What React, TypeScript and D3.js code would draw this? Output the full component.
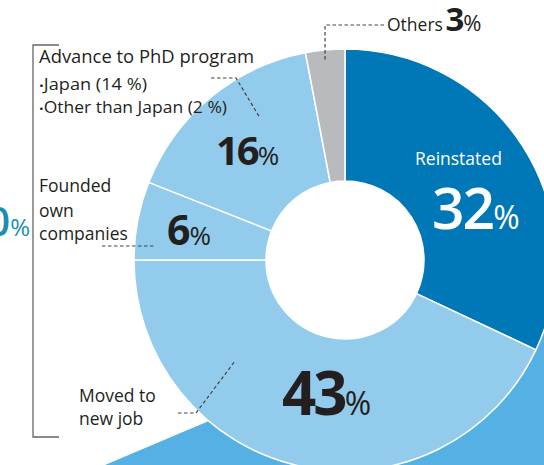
import React from "react";
import * as d3 from "d3";

const categories = ["Reinstated", "Moved to new job", "Founded own companies", "Advance to PhD program", "Others"];
const values = [32, 43, 6, 16, 3];
const colors = ["#0077b6", "#93cbed", "#93cbed", "#93cbed", "#b9babd"];

const W = 544, H = 465;
const cx = 345, cy = 260, R = 211, r0 = 79;
const FONT = "'Open Sans', 'Noto Sans', sans-serif";
const DARK = "#231f20";

export default function App() {
  const pie = d3.pie<number>().sort(null).value((d) => d).startAngle(0).endAngle(2 * Math.PI);
  const arcs = pie(values);
  const arc = d3.arc<d3.PieArcDatum<number>>().innerRadius(r0).outerRadius(R);
  const bgPoly: [number, number][] = [[105, 465], [320, 374], [544, 290], [544, 465]];
  const line = d3.line();
  return (
    <svg width={W} height={H} style={{ position: "absolute", left: 0, top: 0, display: "block", background: "#fff" }}>
      <path d={line(bgPoly) + "Z"} fill="#55b1e3" />
      <g transform={`translate(${cx},${cy})`}>
        {arcs.map((a, i) => (
          <path key={categories[i]} d={arc(a) || ""} fill={colors[i]} stroke="#fff" strokeWidth={1.5} />
        ))}
        <circle r={r0} fill="#fff" />
      </g>
      {/* bracket */}
      <path d="M59,45 H33 V437 H59" fill="none" stroke="#666" strokeWidth={1.3} />
      {/* leaders */}
      <g fill="none" stroke="#444" strokeWidth={1.2} strokeDasharray="3.5,2.5">
        <path d="M211,78 H236 L260,118" />
        <path d="M102,246 H155" />
        <path d="M384,25 H325 V62" />
        <path d="M178,413 H196 L235,361" />
      </g>
      <g fontFamily={FONT} fill={DARK}>
        <text x={39} y={63} fontSize={17.5} textLength={215} lengthAdjust="spacingAndGlyphs">Advance to PhD program</text>
        <text x={39} y={90} fontSize={15.5} textLength={108} lengthAdjust="spacingAndGlyphs"><tspan fontSize={11}>•</tspan>Japan (14 %)</text>
        <text x={39} y={113} fontSize={15.5} textLength={188} lengthAdjust="spacingAndGlyphs"><tspan fontSize={11}>•</tspan>Other than Japan (2 %)</text>
        <text x={216} y={165} fontSize={40} fontWeight={700} letterSpacing={-2}>16<tspan fontSize={26} fontWeight={400}>%</tspan></text>
        <text x={39} y={192} fontSize={17.5}>Founded</text>
        <text x={39} y={217} fontSize={17.5}>own</text>
        <text x={39} y={240} fontSize={17.5}>companies</text>
        <text x={167} y={245} fontSize={41} fontWeight={700}>6<tspan fontSize={26} fontWeight={400} dx={-1}>%</tspan></text>
        <text x={387} y={31} fontSize={17.5}>Others <tspan fontSize={33} fontWeight={700} dx={-2}>3</tspan><tspan fontSize={22} dx={-1}>%</tspan></text>
        <text x={79} y={402} fontSize={17.5}>Moved to</text>
        <text x={79} y={425} fontSize={17.5}>new job</text>
        <text x={282} y={415} fontSize={60} fontWeight={700} letterSpacing={-3}>43<tspan fontSize={32} fontWeight={400}>%</tspan></text>
      </g>
      <g fontFamily={FONT} fill="#fff">
        <text x={415} y={165} fontSize={17.5}>Reinstated</text>
        <text x={432} y={229} fontSize={57} fontWeight={600} letterSpacing={-2}>32<tspan fontSize={32} fontWeight={400}>%</tspan></text>
      </g>
      <text x={30} y={236} fontFamily={FONT} fontSize={40} fontWeight={600} fill="#1a8fb3" textAnchor="end">70<tspan fontSize={24} fontWeight={400}>%</tspan></text>
    </svg>
  );
}
